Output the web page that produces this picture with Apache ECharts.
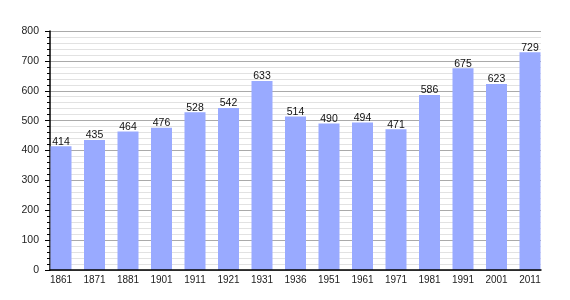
<!DOCTYPE html>
<html>
<head>
<meta charset="utf-8">
<script src="https://cdn.jsdelivr.net/npm/echarts@6/dist/echarts.min.js"></script>
<style>html,body{margin:0;padding:0;background:#fff}#c{width:570px;height:300px}</style>
</head>
<body>
<div id="c"></div>
<script>
var years = ['1861','1871','1881','1901','1911','1921','1931','1936','1951','1961','1971','1981','1991','2001','2011'];
var population = [414,435,464,476,528,542,633,514,490,494,471,586,675,623,729];
var yMin = 0, yMax = 800, yStep = 100;

var chart = echarts.init(document.getElementById('c'), null, {renderer:'canvas'});
var font = '"Liberation Sans", Arial, sans-serif';
chart.setOption({
  animation: false,
  backgroundColor: '#fff',
  grid: [
    {left: 50, right: 29, top: 31, bottom: 30},
    {left: 44.25, right: 23.25, top: 31, bottom: 30}
  ],
  xAxis: [
    {type: 'value', gridIndex: 0, min: 0, max: 1, z: 10,
     axisLine: {show: true, onZero: false, lineStyle: {color: '#000', width: 1.5}},
     axisTick: {show: false}, axisLabel: {show: false}, splitLine: {show: false}},
    {type: 'category', gridIndex: 1, data: years, boundaryGap: true,
     axisLine: {show: false}, axisTick: {show: false},
     axisLabel: {color: '#222', fontSize: 10, fontFamily: font, margin: 5, interval: 0}}
  ],
  yAxis: [
    {type: 'value', gridIndex: 0, min: yMin, max: yMax, interval: yStep,
     axisLine: {show: true, lineStyle: {color: '#000', width: 1.5}},
     axisTick: {show: true, length: 5, lineStyle: {color: '#000'}},
     minorTick: {show: true, splitNumber: 5, length: 3, lineStyle: {color: '#000'}},
     axisLabel: {color: '#222', fontSize: 10.5, fontFamily: font, margin: 11},
     splitLine: {show: true, lineStyle: {color: '#aaaaaa', width: 1}},
     minorSplitLine: {show: true, lineStyle: {color: '#e2e2e2', width: 1}}},
    {type: 'value', gridIndex: 1, min: yMin, max: yMax, show: false}
  ],
  series: [{
    type: 'bar', xAxisIndex: 1, yAxisIndex: 1, data: population,
    barWidth: 21,
    itemStyle: {color: '#99aaff'},
    label: {show: true, position: 'top', distance: -1, color: '#111', fontSize: 10.5, fontFamily: font}
  }]
});
</script>
</body>
</html>
